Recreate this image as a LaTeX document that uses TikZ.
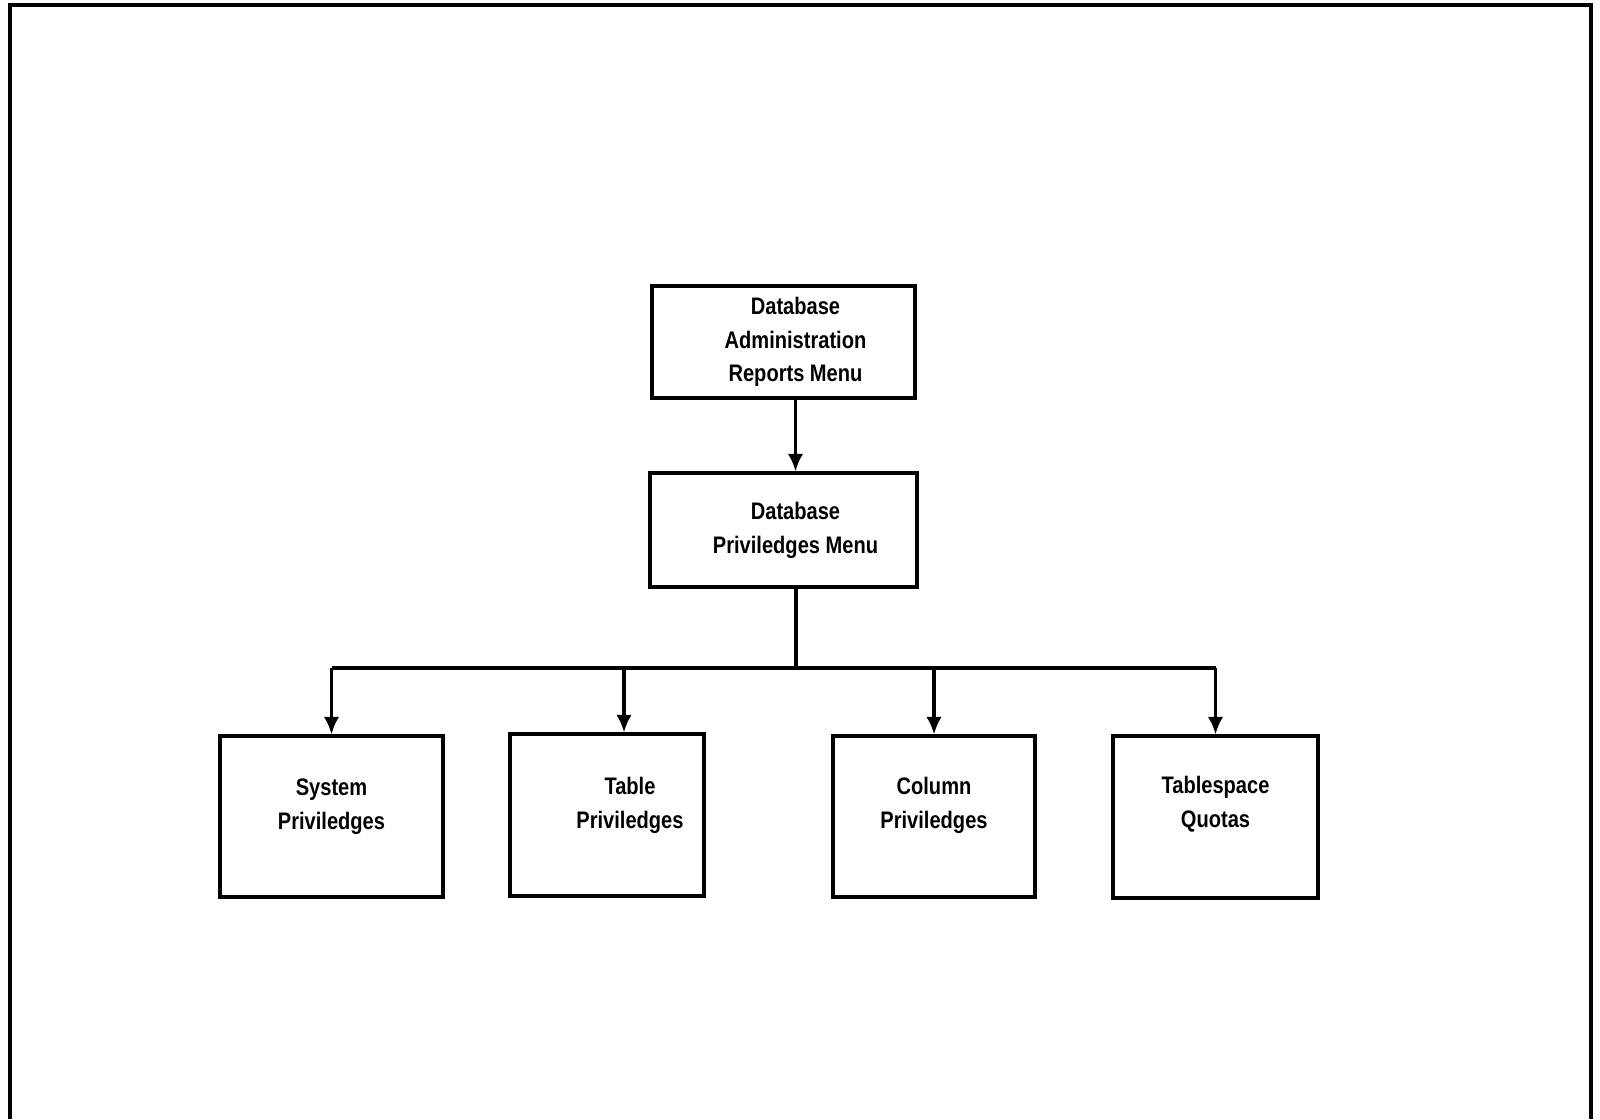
\documentclass[tikz,border=0pt]{standalone}
\usepackage{fontspec}
\setmainfont{Liberation Sans}
\newfontfamily\boxfont[FakeStretch=0.84]{Liberation Sans}
\usetikzlibrary{arrows.meta}

\begin{document}
\begin{tikzpicture}[
  box/.style={draw, line width=0.9pt, inner sep=0pt},
  boxtext/.style={align=center, font=\boxfont\bfseries\fontsize{6.8}{9.6}\selectfont},
  arr/.style={line width=0.9pt, -{Latex[length=5pt,width=4.4pt]}}]
\useasboundingbox (0,0) rectangle (16,-11.19);
% outer frame, bottom edge cut off
\draw[line width=1pt] (0.10,-11.19) |- (15.91,-0.05) -- (15.91,-11.19);

% menus
\node[box, minimum width=2.63cm, minimum height=1.12cm,
  label={[boxtext,xshift=0.12cm]center:Database\\Administration\\Reports Menu}] (admin) at (7.835,-3.42) {};
\node[box, minimum width=2.67cm, minimum height=1.14cm,
  label={[boxtext,xshift=0.12cm]center:Database\\Priviledges Menu}] (menu) at (7.835,-5.30) {};

% report boxes
\node[box, minimum width=2.23cm, minimum height=1.61cm,
  label={[boxtext,yshift=0.10cm]center:System\\Priviledges}] (sys) at (3.315,-8.165) {};
\node[box, minimum width=1.94cm, minimum height=1.62cm,
  label={[boxtext,xshift=0.23cm,yshift=0.10cm]center:Table\\Priviledges}] (tab) at (6.07,-8.15) {};
\node[box, minimum width=2.02cm, minimum height=1.61cm,
  label={[boxtext,yshift=0.11cm]center:Column\\Priviledges}] (col) at (9.34,-8.165) {};
\node[box, minimum width=2.05cm, minimum height=1.62cm,
  label={[boxtext,yshift=0.13cm]center:Tablespace\\Quotas}] (quota) at (12.155,-8.17) {};

\coordinate (bus) at (7.96,-6.68);
\coordinate (tabtop) at ([xshift=0.17cm]tab.north);

% connectors
\draw[arr] ([xshift=0.12cm]admin.south) -- ([xshift=0.12cm]menu.north);
\draw[line width=0.9pt] (menu.south -| bus) -- (bus);
\draw[line width=1pt] (bus -| sys.north) -- (bus -| quota.north);
\draw[arr] (bus -| sys.north) -- (sys.north);
\draw[arr] (bus -| tabtop) -- (tabtop);
\draw[arr] (bus -| col.north) -- (col.north);
\draw[arr] (bus -| quota.north) -- (quota.north);
\end{tikzpicture}
\end{document}
